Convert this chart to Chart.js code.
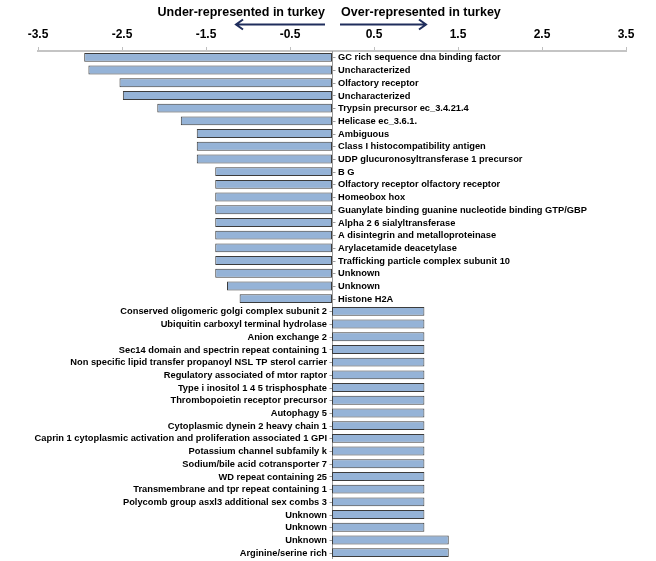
<!DOCTYPE html>
<html>
<head>
<meta charset="utf-8">
<script src="https://cdn.jsdelivr.net/npm/chart.js@4/dist/chart.umd.min.js"></script>
<style>
  html, body { margin: 0; padding: 0; background: #fff; }
  #wrap { width: 656px; height: 561px; }
</style>
</head>
<body>
<div id="wrap"><canvas id="geneChart" width="656" height="561"></canvas></div>
<script>
// categories, top to bottom
const genes = [
  "GC rich sequence dna binding factor",
  "Uncharacterized",
  "Olfactory receptor",
  "Uncharacterized",
  "Trypsin precursor ec_3.4.21.4",
  "Helicase ec_3.6.1.",
  "Ambiguous",
  "Class I histocompatibility antigen",
  "UDP glucuronosyltransferase 1 precursor",
  "B G",
  "Olfactory receptor olfactory receptor",
  "Homeobox hox",
  "Guanylate binding guanine nucleotide binding GTP/GBP",
  "Alpha 2 6 sialyltransferase",
  "A disintegrin and metalloproteinase",
  "Arylacetamide deacetylase",
  "Trafficking particle complex subunit 10",
  "Unknown",
  "Unknown",
  "Histone H2A",
  "Conserved oligomeric golgi complex subunit 2",
  "Ubiquitin carboxyl terminal hydrolase",
  "Anion exchange 2",
  "Sec14 domain and spectrin repeat containing 1",
  "Non specific lipid transfer propanoyl NSL TP sterol carrier",
  "Regulatory associated of mtor raptor",
  "Type i inositol 1 4 5 trisphosphate",
  "Thrombopoietin receptor precursor",
  "Autophagy 5",
  "Cytoplasmic dynein 2 heavy chain 1",
  "Caprin 1 cytoplasmic activation and proliferation associated 1 GPI",
  "Potassium channel subfamily k",
  "Sodium/bile acid cotransporter 7",
  "WD repeat containing 25",
  "Transmembrane and tpr repeat containing 1",
  "Polycomb group asxl3 additional sex combs 3",
  "Unknown",
  "Unknown",
  "Unknown",
  "Arginine/serine rich"
];

// fold change values
const foldChange = [
  -2.95, -2.90, -2.53, -2.49, -2.08, -1.80, -1.61, -1.61, -1.61, -1.39,
  -1.39, -1.39, -1.39, -1.39, -1.39, -1.39, -1.39, -1.39, -1.25, -1.10,
  1.10, 1.10, 1.10, 1.10, 1.10, 1.10, 1.10, 1.10, 1.10, 1.10,
  1.10, 1.10, 1.10, 1.10, 1.10, 1.10, 1.10, 1.10, 1.39, 1.39
];

const tickValues = [-3.5, -2.5, -1.5, -0.5, 0.5, 1.5, 2.5, 3.5];
const headings = ["Under-represented in turkey", "Over-represented in turkey"];

const boldFont = size => "bold " + size + "px 'Liberation Sans', Arial, sans-serif";

// labels sit beside the zero line, on the side away from the bar
const zeroAxisPlugin = {
  id: 'zeroAxis',
  beforeDatasetsDraw(chart) {
    const ctx = chart.ctx, x = chart.scales.x, y = chart.scales.y;
    const x0 = Math.round(x.getPixelForValue(0)) + 0.5;
    ctx.save();
    ctx.strokeStyle = '#9a9a9a';
    ctx.lineWidth = 1;
    ctx.beginPath();
    ctx.moveTo(x0, chart.chartArea.top);
    ctx.lineTo(x0, chart.chartArea.bottom);
    genes.forEach((g, i) => {
      const py = Math.round(y.getPixelForValue(i)) + 0.5;
      ctx.moveTo(x0 - 3, py);
      ctx.lineTo(x0 + 3, py);
    });
    ctx.stroke();
    ctx.restore();
  },
  afterDatasetsDraw(chart) {
    const ctx = chart.ctx, x = chart.scales.x, y = chart.scales.y;
    const x0 = x.getPixelForValue(0);
    ctx.save();
    ctx.font = boldFont(9.3);
    ctx.fillStyle = '#000';
    ctx.textBaseline = 'middle';
    genes.forEach((g, i) => {
      const py = y.getPixelForValue(i) + 0.5;
      if (foldChange[i] < 0) {
        ctx.textAlign = 'left';
        ctx.fillText(g, x0 + 6, py);
      } else {
        ctx.textAlign = 'right';
        ctx.fillText(g, x0 - 5, py);
      }
    });
    ctx.restore();
  }
};

// headings with arrows above the axis
const headingPlugin = {
  id: 'headings',
  afterDraw(chart) {
    const ctx = chart.ctx;
    const x0 = chart.scales.x.getPixelForValue(0);
    ctx.save();
    ctx.font = boldFont(12.5);
    ctx.fillStyle = '#000';
    ctx.textBaseline = 'middle';
    ctx.textAlign = 'right';
    ctx.fillText(headings[0], x0 - 7, 12.5);
    ctx.textAlign = 'left';
    ctx.fillText(headings[1], x0 + 9, 12.5);

    ctx.strokeStyle = '#1f2d5c';
    ctx.lineWidth = 2;
    ctx.beginPath();
    // left arrow
    ctx.moveTo(x0 - 7, 24.5); ctx.lineTo(x0 - 96, 24.5);
    ctx.moveTo(x0 - 89, 19.5); ctx.lineTo(x0 - 96, 24.5); ctx.lineTo(x0 - 89, 29.5);
    // right arrow
    ctx.moveTo(x0 + 8, 24.5); ctx.lineTo(x0 + 94, 24.5);
    ctx.moveTo(x0 + 87, 19.5); ctx.lineTo(x0 + 94, 24.5); ctx.lineTo(x0 + 87, 29.5);
    ctx.stroke();
    ctx.restore();
  }
};

new Chart(document.getElementById('geneChart').getContext('2d'), {
  type: 'bar',
  data: {
    labels: genes,
    datasets: [{
      data: foldChange,
      backgroundColor: '#95b3d7',
      borderColor: '#3c3c3c',
      borderWidth: 1,
      borderSkipped: false,
      categoryPercentage: 1,
      barPercentage: 0.7
    }]
  },
  options: {
    indexAxis: 'y',
    responsive: false,
    animation: false,
    devicePixelRatio: 1,
    layout: { padding: { left: 38, right: 30, top: 0, bottom: 2 } },
    plugins: { legend: { display: false }, tooltip: { enabled: false } },
    scales: {
      x: {
        type: 'linear',
        position: 'top',
        min: -3.5,
        max: 3.5,
        afterBuildTicks: s => { s.ticks = tickValues.map(v => ({ value: v })); },
        afterFit: s => { s.height = 51; },
        ticks: {
          callback: v => v.toFixed(1),
          font: { family: "'Liberation Sans', Arial, sans-serif", size: 12, weight: 'bold' },
          color: '#000',
          padding: 5,
          maxRotation: 0,
          autoSkip: false
        },
        grid: { drawOnChartArea: false, tickLength: 4, color: '#bfbfbf' },
        border: { color: '#c4c4c4', width: 2 }
      },
      y: {
        type: 'category',
        display: false
      }
    }
  },
  plugins: [zeroAxisPlugin, headingPlugin]
});
</script>
</body>
</html>
